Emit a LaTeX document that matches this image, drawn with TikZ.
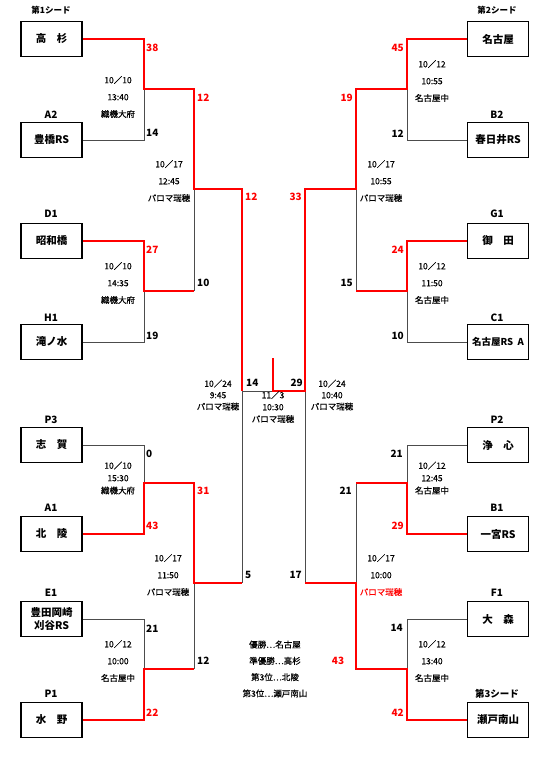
\documentclass[tikz,border=0pt]{standalone}
\usepackage{fontspec}
\setmainfont{Noto Sans CJK JP}
\newfontfamily\infofont{Noto Sans CJK JP}[FakeBold=0.4]
\tikzset{
  team/.style={draw, line width=1.5pt, minimum width=61pt, minimum height=35pt, inner sep=1pt, font=\bfseries\fontsize{10.5}{12}\selectfont},
  seedlbl/.style={font=\bfseries\fontsize{10}{11}\selectfont},
  seedtop/.style={font=\bfseries\fontsize{8.5}{10}\selectfont},
  score/.style={font=\bfseries\fontsize{10}{11}\selectfont, inner sep=0pt},
  wscore/.style={score, text=red},
  info/.style={align=center, inner sep=0pt, font=\infofont\fontsize{8.5}{17}\selectfont},
  tight/.style={font=\infofont\fontsize{8.5}{12.5}\selectfont},
  win/.style={red, line width=2.4pt},
  lose/.style={black!70, line width=0.9pt}
}
\begin{document}
\begin{tikzpicture}[x=1pt,y=-1pt]
  \useasboundingbox (0,0) rectangle (550,759);
  % left side teams
  \node[team] (takasugi) at (51.5,39) {高　杉};
  \node[team] (toyohashi) at (51.5,140) {豊橋RS};
  \node[team] (showabashi) at (51.5,241) {昭和橋};
  \node[team] (takinomizu) at (51.5,342) {滝ノ水};
  \node[team] (shiga) at (51.5,445) {志　賀};
  \node[team] (hokuryo) at (51.5,534) {北　陵};
  \node[team, align=center, font=\bfseries\fontsize{10.5}{13}\selectfont] (toyota) at (51.5,619) {豊田岡崎\\刈谷RS};
  \node[team] (mizuno) at (51.5,720) {水　野};
  \node[seedtop] (s1) at (51,10) {第1シード};
  \node[seedlbl] (la2) at (51,115) {A2};
  \node[seedlbl] (ld1) at (51,214) {D1};
  \node[seedlbl] (lh1) at (51,318) {H1};
  \node[seedlbl] (lp3) at (51,420) {P3};
  \node[seedlbl] (la1) at (51,508) {A1};
  \node[seedlbl] (le1) at (51,593) {E1};
  \node[seedlbl] (lp1) at (51,694) {P1};
  % right side teams
  \node[team] (nagoya) at (498,39) {名古屋};
  \node[team] (kasugai) at (498,140) {春日井RS};
  \node[team] (onda) at (498,241) {御　田};
  \node[team, font=\bfseries\fontsize{9.5}{11}\selectfont] (nagoyars) at (498,342) {名古屋RS\ \ A};
  \node[team] (joshin) at (498,445) {浄　心};
  \node[team] (ichinomiya) at (498,534) {一宮RS};
  \node[team] (omori) at (498,619) {大　森};
  \node[team] (setominami) at (498,720) {瀬戸南山};
  \node[seedtop] (s2) at (497,10) {第2シード};
  \node[seedlbl] (rb2) at (497,115) {B2};
  \node[seedlbl] (rg1) at (497,214) {G1};
  \node[seedlbl] (rc1) at (497,318) {C1};
  \node[seedlbl] (rp2) at (497,420) {P2};
  \node[seedlbl] (rb1) at (497,508) {B1};
  \node[seedlbl] (rf1) at (497,593) {F1};
  \node[seedlbl, font=\bfseries\fontsize{9.5}{11}\selectfont] (s3) at (497,694) {第3シード};
  % junctions
  \coordinate (a1) at (144,89);
  \coordinate (a2) at (144,291);
  \coordinate (a3) at (144,483);
  \coordinate (a4) at (144,669);
  \coordinate (b1) at (194,189);
  \coordinate (b2) at (194,583);
  \coordinate (c1) at (242,391);
  \coordinate (d1) at (407,89);
  \coordinate (d2) at (407,291);
  \coordinate (d3) at (407,483);
  \coordinate (d4) at (407,669);
  \coordinate (e1) at (356,189);
  \coordinate (e2) at (356,583);
  \coordinate (f1) at (305,391);
  \coordinate (mid) at (273,391);
  \coordinate (champ) at (273,358);
  % losing lines
  \draw[lose] (toyohashi.east) -| (a1);
  \draw[lose] (takinomizu.east) -| (a2);
  \draw[lose] (b1 |- a2) -- (b1);
  \draw[lose] (shiga.east) -| (a3);
  \draw[lose] (toyota.east) -| (a4);
  \draw[lose] (b2 |- a4) -- (b2);
  \draw[lose] (c1 |- b2) -- (c1) -- (mid);
  \draw[lose] (kasugai.west) -| (d1);
  \draw[lose] (nagoyars.west) -| (d2);
  \draw[lose] (e1 |- d2) -- (e1);
  \draw[lose] (joshin.west) -| (d3);
  \draw[lose] (e2 |- d3) -- (e2);
  \draw[lose] (omori.west) -| (d4);
  \draw[lose] (f1) -- (f1 |- e2);
  % winning lines
  \draw[win] (takasugi.east) -| (a1) -| (b1) -| (c1);
  \draw[win] (showabashi.east) -| (a2) -- (b1 |- a2);
  \draw[win] (hokuryo.east) -| (a3) -| (b2) -- (c1 |- b2);
  \draw[win] (mizuno.east) -| (a4) -- (b2 |- a4);
  \draw[win] (nagoya.west) -| (d1) -| (e1) -| (f1) -- (mid) -- (champ);
  \draw[win] (onda.west) -| (d2) -- (e1 |- d2);
  \draw[win] (ichinomiya.west) -| (d3) -- (e2 |- d3);
  \draw[win] (f1 |- e2) -- (e2) |- (d4) |- (setominami.west);
  % scores left
  \node[wscore, anchor=west] (p1) at (146,48) {38};
  \node[score, anchor=west] (p2) at (146,133) {14};
  \node[wscore, anchor=west] (p3) at (197,98) {12};
  \node[wscore, anchor=west] (p4) at (245,197) {12};
  \node[wscore, anchor=west] (p5) at (146,250) {27};
  \node[score, anchor=west] (p6) at (197,283) {10};
  \node[score, anchor=west] (p7) at (146,336) {19};
  \node[score, anchor=west] (p8) at (146,454) {0};
  \node[wscore, anchor=west] (p9) at (146,526) {43};
  \node[wscore, anchor=west] (p10) at (197,491) {31};
  \node[score, anchor=west] (p11) at (245,575) {5};
  \node[score, anchor=west] (p12) at (146,629) {21};
  \node[score, anchor=west] (p13) at (197,661) {12};
  \node[wscore, anchor=west] (p14) at (146,713) {22};
  \node[score, anchor=west] (p15) at (246,383) {14};
  % scores right
  \node[score, anchor=east] (q15) at (303,383) {29};
  \node[wscore, anchor=east] (q1) at (404,48) {45};
  \node[score, anchor=east] (q2) at (404,134) {12};
  \node[wscore, anchor=east] (q3) at (353,98) {19};
  \node[wscore, anchor=east] (q4) at (302,197) {33};
  \node[wscore, anchor=east] (q5) at (404,250) {24};
  \node[score, anchor=east] (q6) at (353,283) {15};
  \node[score, anchor=east] (q7) at (404,336) {10};
  \node[score, anchor=east] (q8) at (403,454) {21};
  \node[wscore, anchor=east] (q9) at (404,526) {29};
  \node[score, anchor=east] (q10) at (352,491) {21};
  \node[score, anchor=east] (q11) at (302,575) {17};
  \node[score, anchor=east] (q12) at (403,628) {14};
  \node[wscore] (q13) at (338,661) {43};
  \node[wscore, anchor=east] (q14) at (404,713) {42};
  % match info
  \node[info] (g1) at (118,97) {10／10\\13:40\\織機大府};
  \node[info] (g2) at (169,181) {10／17\\12:45\\パロマ瑞穂};
  \node[info] (g3) at (118,283) {10／10\\14:35\\織機大府};
  \node[info, tight] (g4) at (118,478) {10／10\\15:30\\織機大府};
  \node[info] (g5) at (168,575) {10／17\\11:50\\パロマ瑞穂};
  \node[info] (g6) at (118,661) {10／12\\10:00\\名古屋中};
  \node[info] (h1) at (432,81) {10／12\\10:55\\名古屋中};
  \node[info] (h2) at (381,181) {10／17\\10:55\\パロマ瑞穂};
  \node[info] (h3) at (432,283) {10／12\\11:50\\名古屋中};
  \node[info, tight] (h4) at (432,478) {10／12\\12:45\\名古屋中};
  \node[info] (h5) at (381,575) {10／17\\10:00\\\textcolor{red}{パロマ瑞穂}};
  \node[info] (h6) at (432,661) {10／12\\13:40\\名古屋中};
  \node[info, font=\infofont\fontsize{8.5}{11.5}\selectfont] (k1) at (218,395) {10／24\\9:45\\パロマ瑞穂};
  \node[info, font=\infofont\fontsize{8.5}{11.5}\selectfont] (k2) at (332,395) {10／24\\10:40\\パロマ瑞穂};
  \node[info, font=\infofont\fontsize{8.5}{12}\selectfont] (k3) at (273,407) {11／3\\10:30\\パロマ瑞穂};
  % results
  \node[info, font=\infofont\fontsize{8.5}{16.3}\selectfont] (res) at (275,669) {優勝…名古屋\\準優勝…高杉\\第3位…北陵\\第3位…瀬戸南山};
\end{tikzpicture}
\end{document}
